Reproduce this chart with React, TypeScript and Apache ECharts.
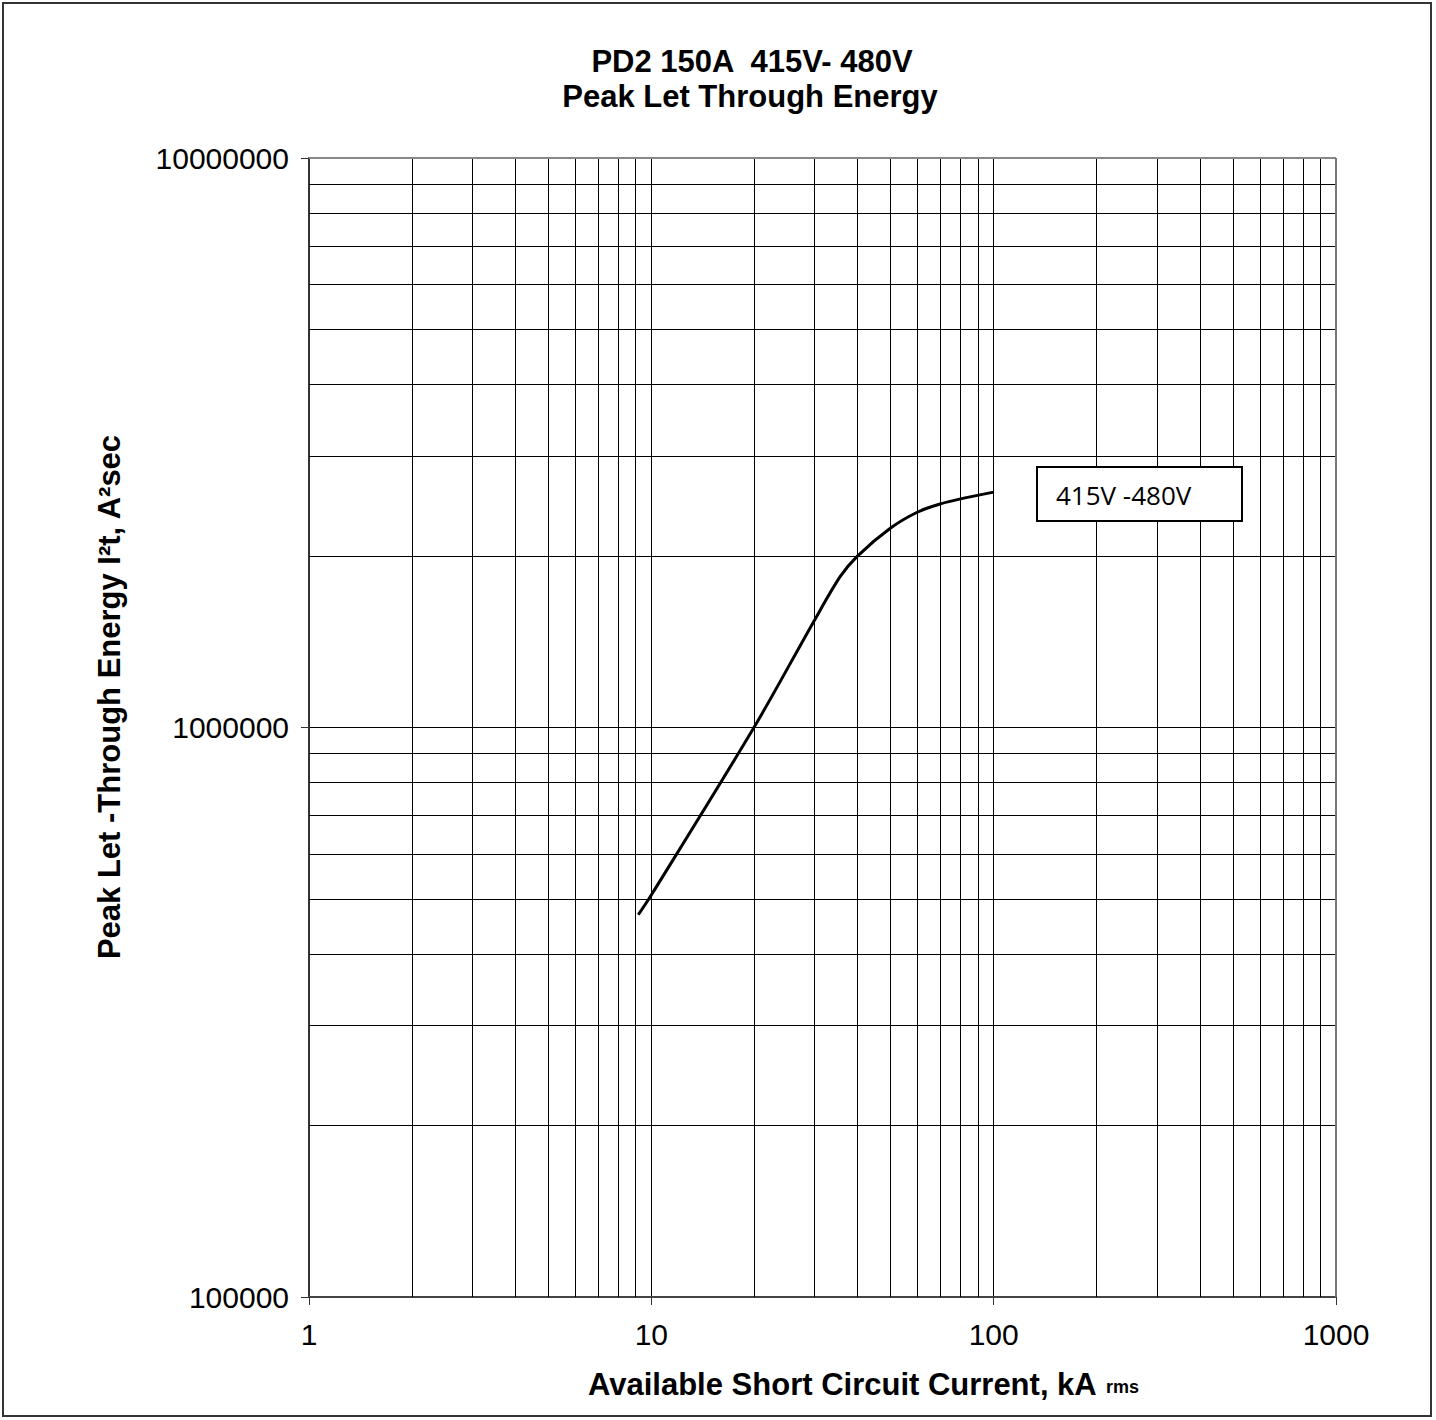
import React, { useEffect, useRef } from "react";
import * as echarts from "echarts";

// Curve (kA rms vs A²s)
const currentKA = [9.16, 10, 20, 30, 35.6, 40, 50, 60, 70, 80, 100];
const letThroughEnergy = [469000, 508000, 1003000, 1545000, 1840000, 2000000, 2240000, 2390000, 2470000, 2520000, 2590000];

// Minor gridline positions (log decades)
const xMinorGrid = [2, 3, 4, 5, 6, 7, 8, 9, 20, 30, 40, 50, 60, 70, 80, 90, 200, 300, 400, 500, 600, 700, 800, 900];
const yMinorGrid = [200000, 300000, 400000, 500000, 600000, 700000, 800000, 900000, 2000000, 3000000, 4000000, 5000000, 6000000, 7000000, 8000000, 9000000];

const titleLines = ["PD2 150A  415V- 480V", "Peak Let Through Energy"];
const xAxisTitle = "Available Short Circuit Current, kA ";
const xAxisTitleSub = "rms";
const yAxisTitle = "Peak Let -Through Energy I²t, A²sec";
const seriesLabel = "415V -480V";

const FONT = "Liberation Sans, Arial, sans-serif";

export default function App() {
  const ref = useRef<HTMLDivElement>(null);
  useEffect(() => {
    if (!ref.current) return;
    const chart = echarts.init(ref.current, null, { renderer: "svg" });
    const option: any = {
      animation: false,
      backgroundColor: "#fff",
      grid: { left: 309, top: 158, right: 100, bottom: 123, containLabel: false },
      xAxis: {
        type: "log",
        logBase: 10,
        min: 1,
        max: 1000,
        axisLine: { show: true, onZero: false, lineStyle: { color: "#444", width: 2 } },
        axisTick: { show: true, length: 8, lineStyle: { color: "#333", width: 1 } },
        minorTick: { show: false },
        splitLine: { show: true, lineStyle: { color: "#000", width: 1 } },
        axisLabel: { fontSize: 30, fontFamily: FONT, color: "#000", margin: 22, formatter: (v: number) => String(Math.round(v)) },
      },
      yAxis: {
        type: "log",
        logBase: 10,
        min: 100000,
        max: 10000000,
        axisLine: { show: true, lineStyle: { color: "#333", width: 2 } },
        axisTick: { show: true, length: 8, lineStyle: { color: "#333", width: 1 } },
        splitLine: { show: true, lineStyle: { color: "#000", width: 1 } },
        axisLabel: { fontSize: 30, fontFamily: FONT, color: "#000", margin: 20, formatter: (v: number) => String(Math.round(v)) },
      },
      series: [
        {
          type: "line",
          z: 1,
          data: [[1, 100000]],
          showSymbol: false,
          lineStyle: { opacity: 0 },
          silent: true,
          markLine: {
            silent: true,
            symbol: ["none", "none"],
            label: { show: false },
            lineStyle: { color: "#000", width: 1, type: "solid" },
            data: [
              ...xMinorGrid.map((v) => ({ xAxis: v })),
              ...yMinorGrid.map((v) => ({ yAxis: v })),
              { yAxis: 10000000, lineStyle: { color: "#888", width: 2, type: "solid" } },
              { xAxis: 1000, lineStyle: { color: "#777", width: 2, type: "solid" } },
            ],
          },
        },
        {
          type: "line",
          name: seriesLabel,
          z: 5,
          data: currentKA.map((x, i) => [x, letThroughEnergy[i]]),
          showSymbol: false,
          smooth: 0.3,
          lineStyle: { color: "#000", width: 3 },
        },
      ],
      graphic: [
        {
          type: "rect",
          shape: { x: 3, y: 3, width: 1428, height: 1413 },
          style: { fill: "none", stroke: "#333", lineWidth: 2 },
          silent: true,
        },
        {
          type: "text",
          x: 752,
          y: 61,
          style: { text: titleLines[0], font: `bold 31px ${FONT}`, fill: "#000", textAlign: "center", textVerticalAlign: "middle" },
        },
        {
          type: "text",
          x: 750,
          y: 96,
          style: { text: titleLines[1], font: `bold 31px ${FONT}`, fill: "#000", textAlign: "center", textVerticalAlign: "middle" },
        },
        {
          type: "text",
          x: 109,
          y: 697,
          rotation: Math.PI / 2,
          style: { text: yAxisTitle, font: `bold 31px ${FONT}`, fill: "#000", textAlign: "center", textVerticalAlign: "middle" },
        },
        {
          type: "text",
          x: 588,
          y: 1384,
          style: { text: xAxisTitle, font: `bold 31px ${FONT}`, fill: "#000", textAlign: "left", textVerticalAlign: "middle" },
        },
        {
          type: "text",
          x: 1106,
          y: 1387,
          style: { text: xAxisTitleSub, font: `bold 18px ${FONT}`, fill: "#000", textAlign: "left", textVerticalAlign: "middle" },
        },
        {
          type: "rect",
          z: 10,
          shape: { x: 1037, y: 467, width: 205, height: 54 },
          style: { fill: "#fff", stroke: "#000", lineWidth: 2 },
        },
        {
          type: "text",
          z: 11,
          x: 1056,
          y: 495,
          style: { text: seriesLabel, font: `26px "Open Sans", sans-serif`, fill: "#000", textAlign: "left", textVerticalAlign: "middle" },
        },
      ],
    };
    chart.setOption(option);
    return () => chart.dispose();
  }, []);
  return <div ref={ref} style={{ position: "absolute", left: 0, top: 0, width: 1436, height: 1420 }} />;
}
